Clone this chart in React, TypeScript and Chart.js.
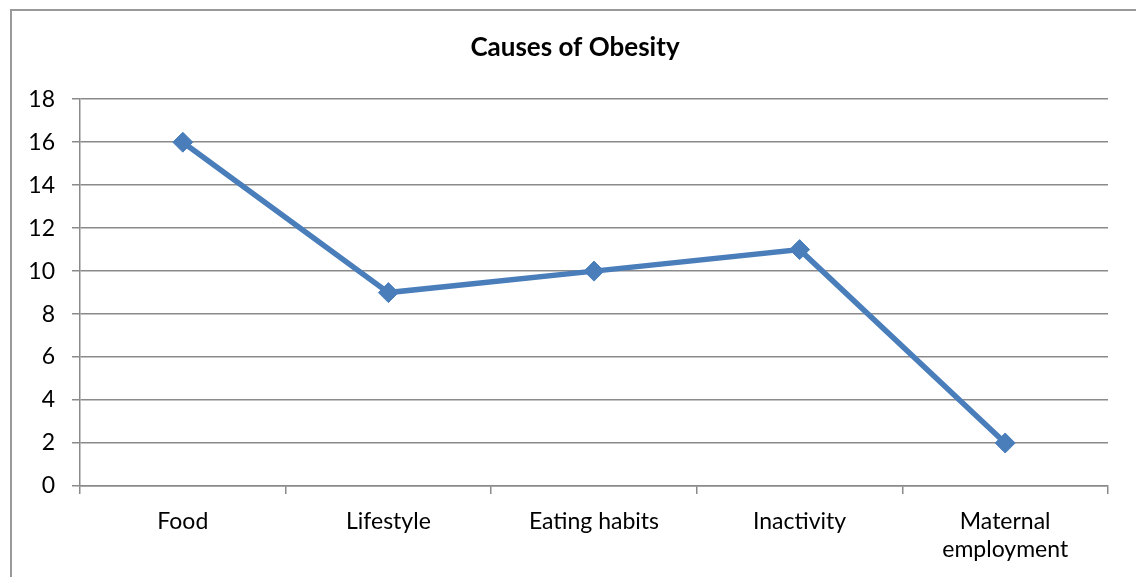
import React, { useEffect, useRef } from "react";
import { Chart, registerables } from "chart.js";

Chart.register(...registerables);

const categories: (string | string[])[] = [
  "Food",
  "Lifestyle",
  "Eating habits",
  "Inactivity",
  ["Maternal", "employment"],
];
const values: number[] = [16, 9, 10, 11, 2];
const yTicksMin = 0;
const yTicksMax = 18;
const yTickStep = 2;
const chartTitle = "Causes of Obesity";

export default function App() {
  const ref = useRef<HTMLCanvasElement | null>(null);

  useEffect(() => {
    if (!ref.current) return;
    const grid = "#8a8a8a";
    const chart = new Chart(ref.current, {
      type: "line",
      data: {
        labels: categories,
        datasets: [
          {
            data: values,
            yAxisID: "y",
            borderColor: "#4A7EBB",
            backgroundColor: "#4A7EBB",
            borderWidth: 5.5,
            tension: 0,
            pointStyle: "rectRot",
            pointRadius: 10,
            pointHoverRadius: 10,
            pointBackgroundColor: "#4A7EBB",
            pointBorderColor: "#4A7EBB",
            pointBorderWidth: 1,
          },
        ],
      },
      options: {
        animation: false,
        responsive: false,
        devicePixelRatio: 1,
        layout: { padding: 0 },
        plugins: {
          legend: { display: false },
          tooltip: { enabled: false },
          title: {
            display: true,
            text: chartTitle,
            color: "#000",
            font: { family: "Lato", size: 26, weight: "bold" },
            padding: { top: 32, bottom: 36 },
          },
        },
        scales: {
          x: {
            offset: true,
            grid: {
              display: true,
              offset: true,
              drawOnChartArea: false,
              drawTicks: true,
              tickLength: 8,
              color: grid,
              lineWidth: 1.5,
            },
            border: { display: true, color: grid, width: 1.5 },
            ticks: {
              color: "#000",
              font: { family: "Lato", size: 23 },
              padding: 14,
              maxRotation: 0,
              autoSkip: false,
            },
            afterFit: (s: any) => {
              s.height = 91;
            },
          },
          y: {
            position: "left",
            min: yTicksMin,
            max: yTicksMax,
            grid: {
              color: grid,
              lineWidth: 1.5,
              tickLength: 8,
            },
            border: { display: true, color: grid, width: 1.5 },
            ticks: {
              stepSize: yTickStep,
              color: "#000",
              font: { family: "Lato", size: 23 },
              padding: 17,
            },
            afterFit: (s: any) => {
              s.width = 80;
            },
          },
          yRightSpace: {
            type: "linear",
            position: "right",
            display: true,
            grid: { display: false, drawTicks: false },
            border: { display: false },
            ticks: { display: false },
            afterFit: (s: any) => {
              s.width = 42;
            },
          },
        },
      },
    });
    return () => chart.destroy();
  }, []);

  return (
    <div
      style={{
        position: "fixed",
        left: 0,
        top: 0,
        width: 1136,
        height: 577,
        overflow: "hidden",
        background: "#fff",
      }}
    >
      <div
        style={{
          position: "absolute",
          left: 10,
          top: 9,
          width: 2000,
          height: 2000,
          borderLeft: "2px solid #999",
          borderTop: "2px solid #999",
        }}
      />
      <canvas
        ref={ref}
        width={1150}
        height={577}
        style={{ position: "absolute", left: 0, top: 0, width: 1150, height: 577 }}
      />
    </div>
  );
}
